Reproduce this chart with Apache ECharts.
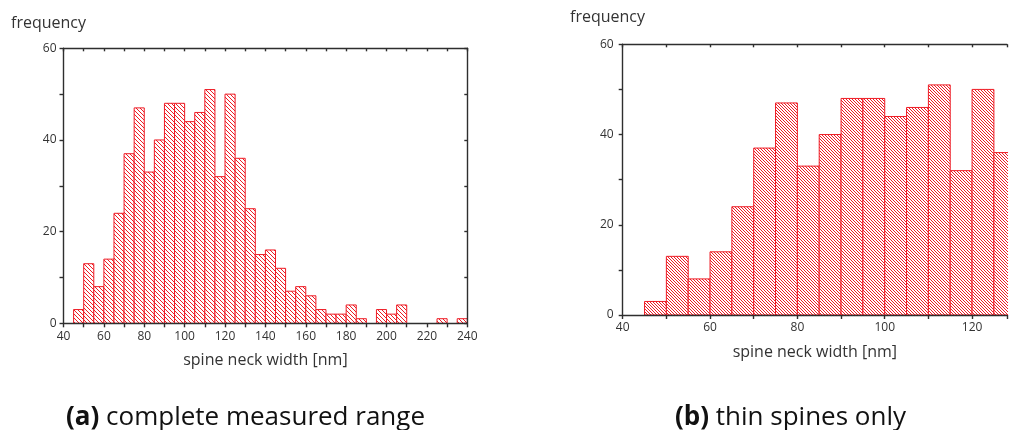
<!DOCTYPE html>
<html>
<head>
<meta charset="utf-8">
<script src="https://cdn.jsdelivr.net/npm/echarts@6/dist/echarts.min.js"></script>
<style>
  html, body { margin: 0; padding: 0; background: #fff; overflow: hidden; }
  #chart { width: 1010px; height: 430px; }
</style>
</head>
<body>
<div id="chart"></div>
<script>
// Histogram of spine neck widths, 5 nm bins (lower bin edges in nm)
const binWidth = 5;
const binStarts = [45, 50, 55, 60, 65, 70, 75, 80, 85, 90, 95, 100, 105, 110, 115, 120, 125,
  130, 135, 140, 145, 150, 155, 160, 165, 170, 175, 180, 185, 190, 195, 200, 205,
  210, 215, 220, 225, 230, 235];
const counts = [3, 13, 8, 14, 24, 37, 47, 33, 40, 48, 48, 44, 46, 51, 32, 50, 36,
  25, 15, 16, 12, 7, 8, 6, 3, 2, 2, 4, 1, 0, 3, 2, 4,
  0, 0, 0, 1, 0, 1];

// Thin spines subset (same bins, up to 130 nm)
const thinBinStarts = [45, 50, 55, 60, 65, 70, 75, 80, 85, 90, 95, 100, 105, 110, 115, 120, 125];
const thinCounts = [3, 13, 8, 14, 24, 37, 47, 33, 40, 48, 48, 44, 46, 51, 32, 50, 36];

// Labelled ticks
const xLabelsFull = [40, 60, 80, 100, 120, 140, 160, 180, 200, 220, 240];
const xLabelsThin = [40, 60, 80, 100, 120];
const yLabels = [0, 20, 40, 60];

const RED = '#ee1c25';
const AXIS = '#2e2e2e';
const FONT = '"Open Sans", "Noto Sans", sans-serif';

// Diagonal "\" hatch tile
function hatchTile(size) {
  const c = document.createElement('canvas');
  c.width = size; c.height = size;
  const g = c.getContext('2d');
  g.fillStyle = '#fff';
  g.fillRect(0, 0, size, size);
  g.strokeStyle = RED;
  g.lineWidth = 1;
  g.beginPath();
  g.moveTo(-1, -1); g.lineTo(size + 1, size + 1);
  g.moveTo(-1, size - 1); g.lineTo(1, size + 1);
  g.moveTo(size - 1, -1); g.lineTo(size + 1, 1);
  g.stroke();
  return c;
}
const hatchWide = hatchTile(4);
const hatchNarrow = hatchTile(3);

function histItem(tile) {
  return function (params, api) {
    const y = api.value(1);
    if (!y) return null;
    const x0 = api.value(0);
    const p0 = api.coord([x0, y]);
    const p1 = api.coord([x0 + binWidth, 0]);
    return {
      type: 'rect',
      shape: { x: p0[0], y: p0[1], width: p1[0] - p0[0], height: p1[1] - p0[1] },
      style: { fill: { image: tile, repeat: 'repeat' }, stroke: RED, lineWidth: 1 }
    };
  };
}

function labelOnly(list) {
  return function (v) { return list.indexOf(v) >= 0 ? String(v) : ''; };
}

const lineStyle = { color: AXIS, width: 1.4 };

function bottomAxis(grid, max, labels) {
  return {
    type: 'value', gridIndex: grid, position: 'bottom', min: 40, max: max, interval: 10,
    z: 5,
    name: 'spine neck width [nm]', nameLocation: 'middle', nameGap: 29,
    nameTextStyle: { fontFamily: FONT, fontSize: 16, color: '#333' },
    axisLine: { show: true, lineStyle: lineStyle },
    axisTick: { show: true, length: 4, lineStyle: lineStyle },
    axisLabel: { show: true, margin: 7, fontFamily: FONT, fontSize: 12, color: '#333',
      formatter: labelOnly(labels), showMaxLabel: true, showMinLabel: true },
    splitLine: { show: false }
  };
}
function topAxis(grid, max) {
  return {
    type: 'value', gridIndex: grid, position: 'top', min: 40, max: max, interval: 10,
    z: 5,
    axisLine: { show: true, onZero: false, lineStyle: lineStyle },
    axisTick: { show: true, inside: true, length: 3, lineStyle: lineStyle },
    axisLabel: { show: false },
    splitLine: { show: false }
  };
}
function leftAxis(grid, margin) {
  return {
    type: 'value', gridIndex: grid, position: 'left', min: 0, max: 60, interval: 10,
    z: 5,
    axisLine: { show: true, lineStyle: lineStyle },
    axisTick: { show: true, length: 4, lineStyle: lineStyle },
    axisLabel: { show: true, margin: margin, fontFamily: FONT, fontSize: 12, color: '#333',
      formatter: labelOnly(yLabels) },
    splitLine: { show: false }
  };
}

const chart = echarts.init(document.getElementById('chart'), null, { renderer: 'canvas' });

chart.setOption({
  animation: false,
  backgroundColor: '#fff',
  grid: [
    { left: 63.5, top: 48.3, width: 403.8, height: 275 },
    { left: 622.7, top: 44.3, width: 387.3, height: 270.7 }
  ],
  xAxis: [
    bottomAxis(0, 240, xLabelsFull),
    topAxis(0, 240),
    bottomAxis(1, 128, xLabelsThin),
    topAxis(1, 128)
  ],
  yAxis: [
    leftAxis(0, 7),
    {
      type: 'value', gridIndex: 0, position: 'right', min: 0, max: 60, interval: 10,
      z: 5,
      axisLine: { show: true, onZero: false, lineStyle: lineStyle },
      axisTick: { show: true, inside: true, length: 3, lineStyle: lineStyle },
      axisLabel: { show: false },
      splitLine: { show: false }
    },
    leftAxis(1, 9)
  ],
  series: [
    {
      type: 'custom', xAxisIndex: 0, yAxisIndex: 0, clip: true,
      renderItem: histItem(hatchWide),
      encode: { x: 0, y: 1 },
      data: binStarts.map((s, i) => [s, counts[i]])
    },
    {
      type: 'custom', xAxisIndex: 2, yAxisIndex: 2, clip: true,
      renderItem: histItem(hatchNarrow),
      encode: { x: 0, y: 1 },
      data: thinBinStarts.map((s, i) => [s, thinCounts[i]])
    }
  ],
  graphic: [
    { type: 'text', x: 11, y: 23, style: { text: 'frequency', fontFamily: FONT, fontSize: 16,
        fill: '#333', verticalAlign: 'middle' } },
    { type: 'text', x: 570, y: 17, style: { text: 'frequency', fontFamily: FONT, fontSize: 16,
        fill: '#333', verticalAlign: 'middle' } },
    { type: 'text', x: 245.5, y: 418, style: {
        text: '{b|(a)} complete measured range', fontFamily: FONT, fontSize: 26, fill: '#111',
        align: 'center', verticalAlign: 'middle',
        rich: { b: { fontFamily: FONT, fontSize: 26, fontWeight: 'bold', fill: '#111' } } } },
    { type: 'text', x: 790.5, y: 418, style: {
        text: '{b|(b)} thin spines only', fontFamily: FONT, fontSize: 26, fill: '#111',
        align: 'center', verticalAlign: 'middle',
        rich: { b: { fontFamily: FONT, fontSize: 26, fontWeight: 'bold', fill: '#111' } } } }
  ]
});
</script>
</body>
</html>
